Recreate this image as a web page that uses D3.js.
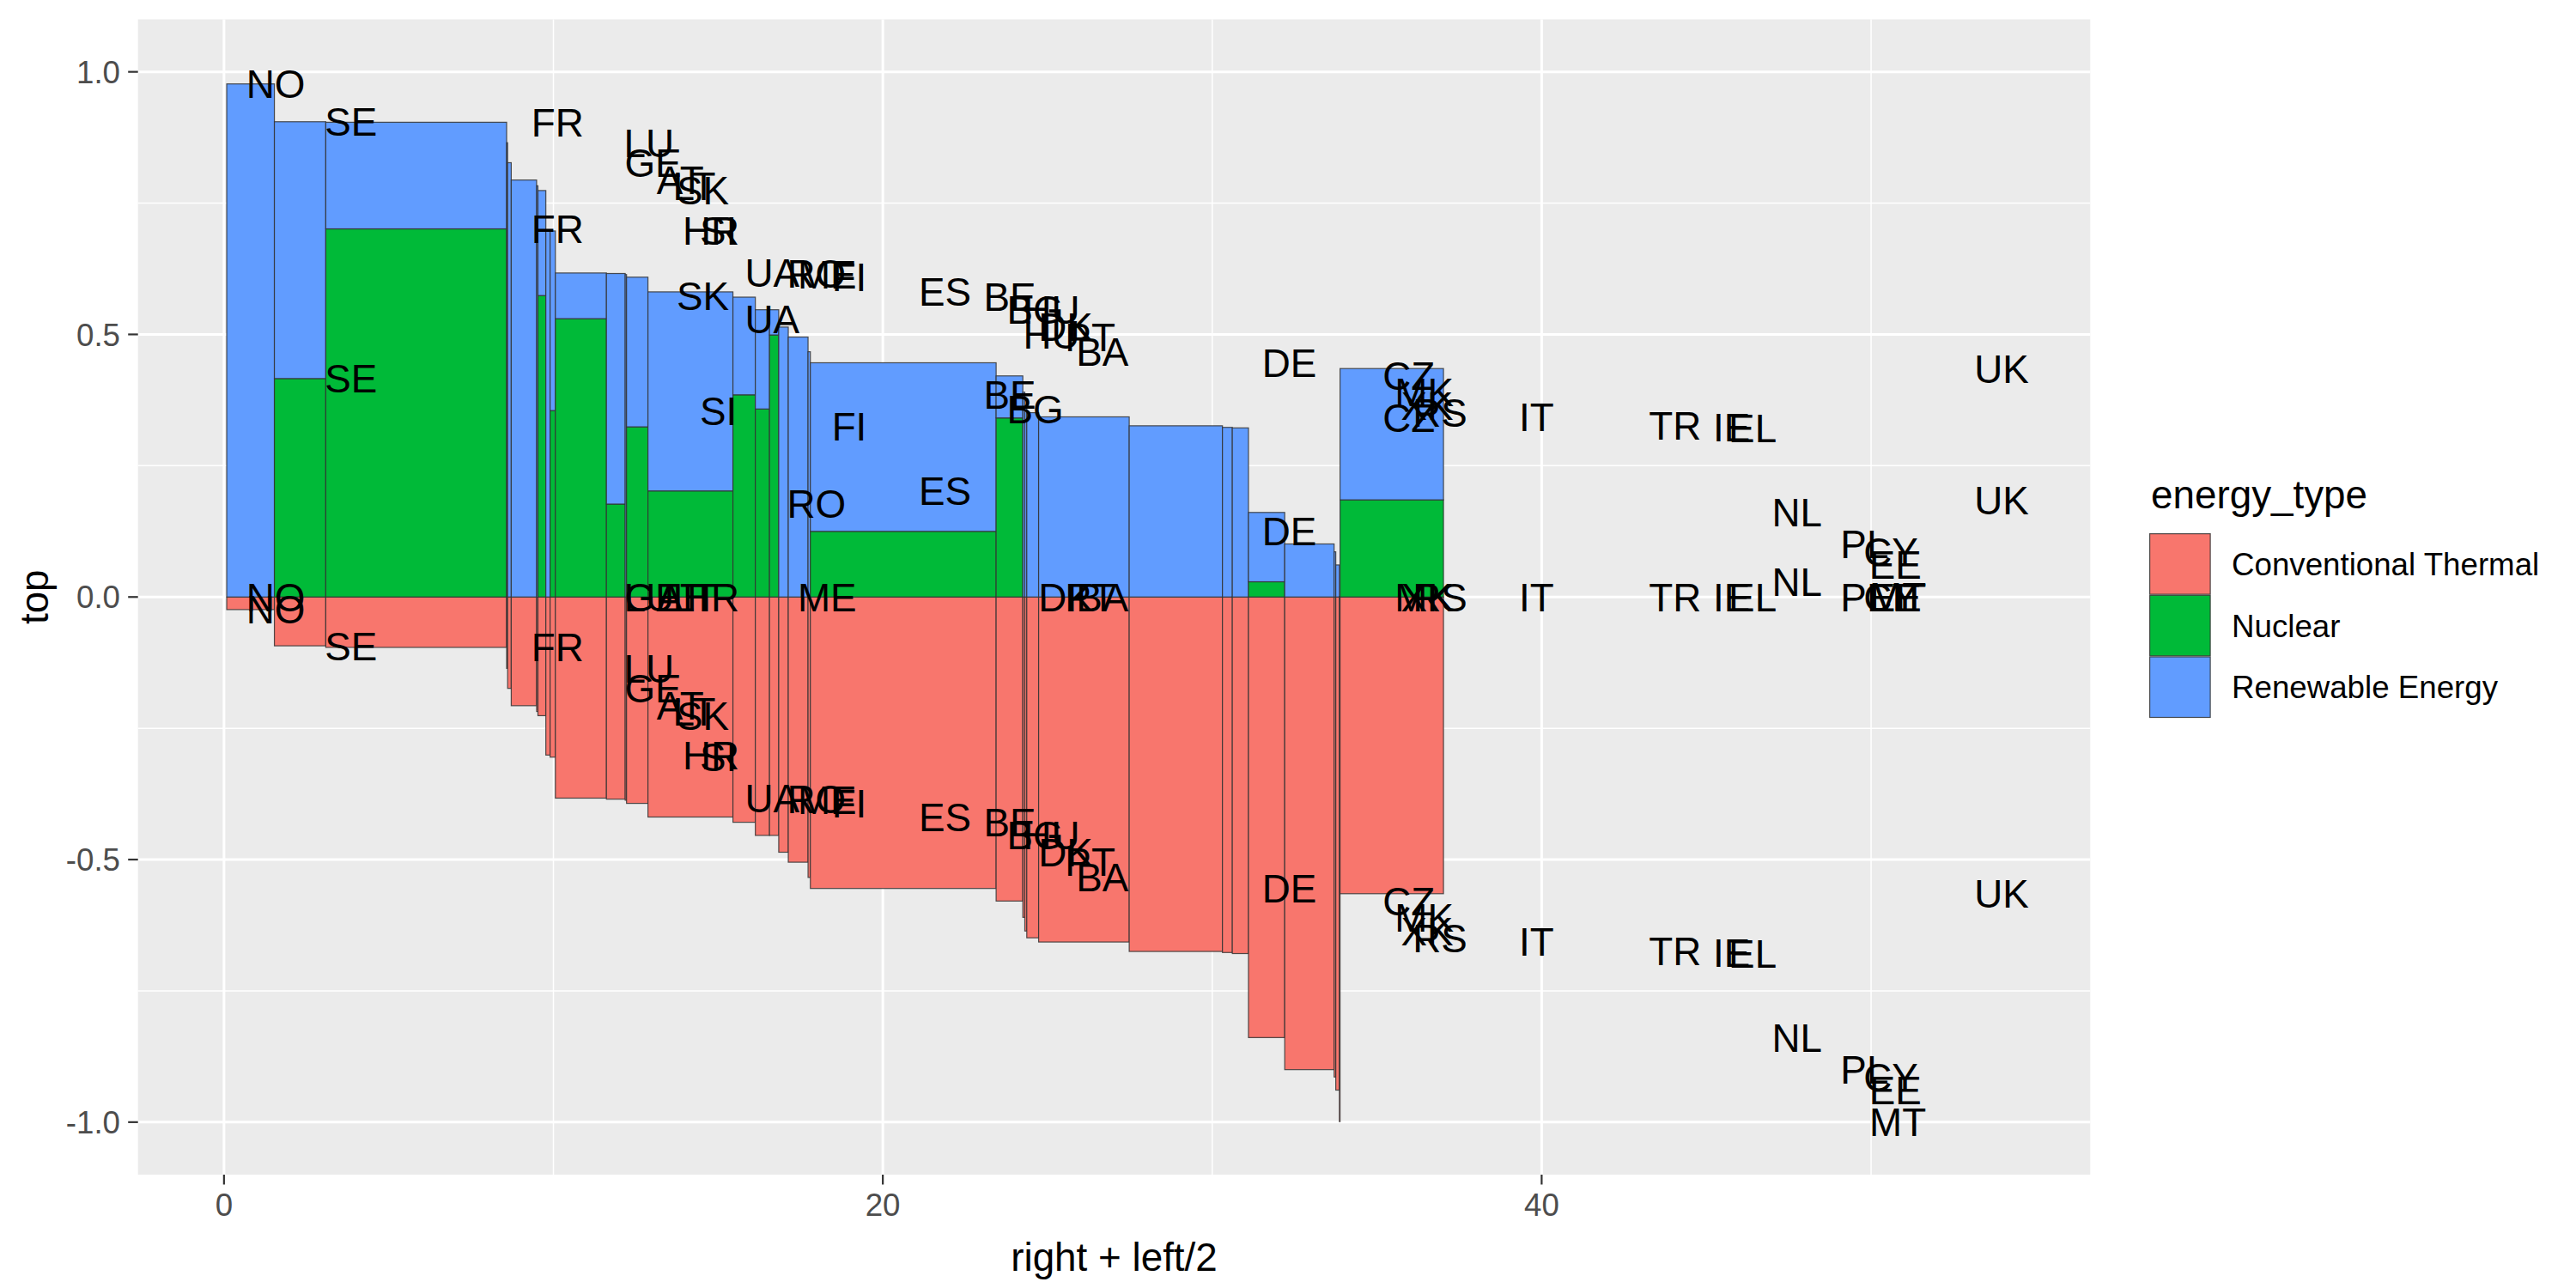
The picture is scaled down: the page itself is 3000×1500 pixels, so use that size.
<!DOCTYPE html>
<html>
<head>
<meta charset="utf-8">
<script src="https://cdn.jsdelivr.net/npm/d3@7"></script>
<style>
  html, body { margin: 0; padding: 0; background: #ffffff; }
  svg { display: block; }
  text { font-family: "Liberation Sans", Arial, Helvetica, sans-serif; }
</style>
</head>
<body>
<div id="chart"></div>
<script>
// ---------------- data ----------------
const countries = ["NO","SE","FR","LU","GE","AT","LT","SK","HR","SI","UA","RO","ME","FI","ES","BE","BG","HU","DK","PT","BA","DE","CZ","MK","XK","RS","IT","TR","IE","EL","NL","PL","CY","EE","MT","UK"];
// total generation, in units of 100 TWh (bar widths)
const totals = [1.447,1.56,5.49,0.03,0.11,0.77,0.04,0.24,0.13,0.16,1.55,0.57,0.04,0.65,2.58,0.68,0.43,0.28,0.29,0.60,0.07,5.64,0.81,0.06,0.06,0.36,2.75,2.83,0.30,0.49,1.10,1.50,0.05,0.11,0.02,3.14];
// shares of each energy type
const conventional = [0.024,0.093,0.096,0.136,0.174,0.207,0.218,0.226,0.301,0.305,0.383,0.385,0.387,0.393,0.419,0.429,0.454,0.454,0.486,0.505,0.534,0.555,0.579,0.610,0.636,0.649,0.657,0.675,0.677,0.679,0.839,0.900,0.914,0.939,0.999,0.565];
const nuclear      = [0,0.416,0.701,0,0,0,0,0.574,0,0.355,0.530,0.177,0,0.324,0.202,0.385,0.358,0.499,0,0,0,0.125,0.341,0,0,0,0,0,0,0,0.029,0,0,0,0,0.185];
const renewable    = [0.977,0.489,0.203,0.865,0.827,0.794,0.783,0.200,0.697,0.342,0.087,0.439,0.614,0.285,0.379,0.186,0.189,0.048,0.514,0.495,0.467,0.321,0.080,0.390,0.364,0.351,0.343,0.326,0.323,0.322,0.132,0.101,0.086,0.061,0.001,0.250];
const firstLeft = 0.083;           // left edge of the first bar
const energyTypes = ["Conventional Thermal","Nuclear","Renewable Energy"];
const typeColors  = ["#F8766D","#00BA38","#619CFF"];
const xTicks = [0,20,40];
const xMinor = [10,30,50];
const yTicks = [-1.0,-0.5,0.0,0.5,1.0];
const yMinor = [-0.75,-0.25,0.25,0.75];
const yLimits = [-1.1, 1.1];

// ---------------- build rectangle table ----------------
const rects = [];
let cum = firstLeft;
countries.forEach((c, i) => {
  const left = cum, right = cum + totals[i];
  cum = right;
  rects.push({country:c, type:energyTypes[0], left, right, bottom:0, top:-conventional[i]});
  rects.push({country:c, type:energyTypes[1], left, right, bottom:0, top:nuclear[i]});
  rects.push({country:c, type:energyTypes[2], left, right, bottom:nuclear[i], top:nuclear[i]+renewable[i]});
});
rects.forEach(r => { r.lx = r.right + r.left / 2; });

// ---------------- layout ----------------
const W = 3000, H = 1500;
const P = {left:160.7, right:2434.3, top:22.5, bottom:1368};
const xMinData = d3.min(rects, r => r.left);
const xMaxData = d3.max(rects, r => Math.max(r.right, r.lx));
const span = xMaxData - xMinData;
const x = d3.scaleLinear().domain([xMinData - 0.05*span, xMaxData + 0.05*span]).range([P.left, P.right]);
const y = d3.scaleLinear().domain(yLimits).range([P.bottom, P.top]);
const color = d3.scaleOrdinal().domain(energyTypes).range(typeColors);
const hyphen = s => s.replace("\u2212", "-");

const svg = d3.select("#chart").append("svg").attr("width", W).attr("height", H);
svg.append("rect").attr("width", W).attr("height", H).attr("fill", "#ffffff");

// panel
svg.append("rect").attr("x", P.left).attr("y", P.top)
  .attr("width", P.right - P.left).attr("height", P.bottom - P.top).attr("fill", "#EBEBEB");

const grid = svg.append("g");
grid.selectAll(".xm").data(xMinor).join("line")
  .attr("x1", d => x(d)).attr("x2", d => x(d)).attr("y1", P.top).attr("y2", P.bottom)
  .attr("stroke", "#ffffff").attr("stroke-width", 1.5);
grid.selectAll(".ym").data(yMinor).join("line")
  .attr("y1", d => y(d)).attr("y2", d => y(d)).attr("x1", P.left).attr("x2", P.right)
  .attr("stroke", "#ffffff").attr("stroke-width", 1.5);
grid.selectAll(".xM").data(xTicks).join("line")
  .attr("x1", d => x(d)).attr("x2", d => x(d)).attr("y1", P.top).attr("y2", P.bottom)
  .attr("stroke", "#ffffff").attr("stroke-width", 3);
grid.selectAll(".yM").data(yTicks).join("line")
  .attr("y1", d => y(d)).attr("y2", d => y(d)).attr("x1", P.left).attr("x2", P.right)
  .attr("stroke", "#ffffff").attr("stroke-width", 3);

// rectangles
svg.append("g").selectAll("rect").data(rects).join("rect")
  .attr("x", d => x(d.left))
  .attr("width", d => Math.max(0, x(d.right) - x(d.left)))
  .attr("y", d => y(Math.max(d.top, d.bottom)))
  .attr("height", d => Math.abs(y(d.top) - y(d.bottom)))
  .attr("fill", d => color(d.type))
  .attr("stroke", "#333333").attr("stroke-opacity", 0.85).attr("stroke-width", 1.2);

// labels at (right + left/2, top)
const labelSize = 45.8;
svg.append("g").selectAll("text").data(rects).join("text")
  .attr("x", d => x(d.lx))
  .attr("y", d => y(d.top) + 0.358 * labelSize)
  .attr("text-anchor", "middle")
  .attr("font-size", labelSize)
  .attr("fill", "#000000")
  .text(d => d.country);

// axes
const tickLen = 11.5, tickCol = "#333333", tickTxt = "#4D4D4D", tickSize = 36.7;
const ax = svg.append("g");
ax.selectAll(".xt").data(xTicks).join("line")
  .attr("x1", d => x(d)).attr("x2", d => x(d)).attr("y1", P.bottom).attr("y2", P.bottom + tickLen)
  .attr("stroke", tickCol).attr("stroke-width", 2.2);
ax.selectAll(".xl").data(xTicks).join("text")
  .attr("x", d => x(d)).attr("y", P.bottom + tickLen + 9.2 + 0.716 * tickSize + 1)
  .attr("text-anchor", "middle").attr("font-size", tickSize).attr("fill", tickTxt)
  .text(d => hyphen(d3.format("d")(d)));
ax.selectAll(".yt").data(yTicks).join("line")
  .attr("y1", d => y(d)).attr("y2", d => y(d)).attr("x1", P.left - tickLen).attr("x2", P.left)
  .attr("stroke", tickCol).attr("stroke-width", 2.2);
ax.selectAll(".yl").data(yTicks).join("text")
  .attr("x", P.left - tickLen - 9.2).attr("y", d => y(d) + 0.358 * tickSize)
  .attr("text-anchor", "end").attr("font-size", tickSize).attr("fill", tickTxt)
  .text(d => hyphen(d3.format(".1f")(d)));

const titleSize = 45.8;
svg.append("text").attr("x", (P.left + P.right) / 2).attr("y", 1480)
  .attr("text-anchor", "middle").attr("font-size", titleSize).attr("fill", "#000")
  .text("right + left/2");
svg.append("text").attr("transform", `translate(55.5, ${(P.top + P.bottom) / 2}) rotate(-90)`)
  .attr("text-anchor", "middle").attr("font-size", titleSize).attr("fill", "#000")
  .text("top");

// legend
const lg = svg.append("g");
lg.append("text").attr("x", 2505).attr("y", 592).attr("font-size", titleSize).attr("fill", "#000")
  .text("energy_type");
const keyTop = 621, keySize = 71.7, keyX = 2503;
lg.selectAll(".kb").data(energyTypes).join("rect")
  .attr("x", keyX).attr("y", (d, i) => keyTop + i * keySize)
  .attr("width", keySize).attr("height", keySize).attr("fill", "#F2F2F2");
lg.selectAll(".k").data(energyTypes).join("rect")
  .attr("x", keyX + 0.6).attr("y", (d, i) => keyTop + i * keySize + 0.6)
  .attr("width", keySize - 1.2).attr("height", keySize - 1.2)
  .attr("fill", d => color(d)).attr("stroke", "#333333").attr("stroke-opacity", 0.85).attr("stroke-width", 1.2);
lg.selectAll(".kt").data(energyTypes).join("text")
  .attr("x", 2599).attr("y", (d, i) => keyTop + (i + 0.5) * keySize + 0.358 * tickSize)
  .attr("font-size", tickSize).attr("fill", "#000")
  .text(d => d);
</script>
</body>
</html>
